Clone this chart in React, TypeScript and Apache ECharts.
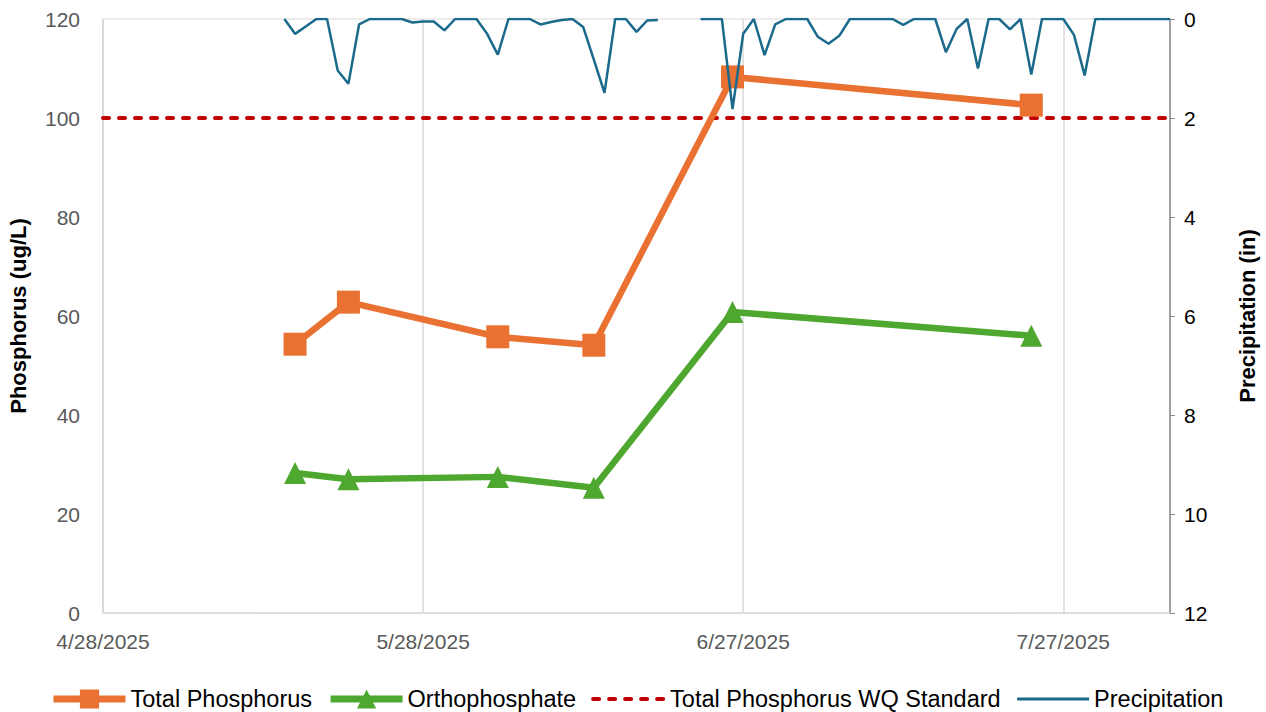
import { useEffect, useRef } from "react";
import * as echarts from "echarts";

// Axis range (dates) and tick step in days
const axisStart = "4/28/2025";
const axisEnd = "8/6/2025";
const xTickStepDays = 30;

// Water-quality samples
const sampleDates = ["5/16/2025", "5/21/2025", "6/4/2025", "6/13/2025", "6/26/2025", "7/24/2025"];
const totalPhosphorus = [54.3, 62.8, 55.8, 54.1, 108.3, 102.6];
const orthophosphate = [28.3, 27.0, 27.5, 25.3, 60.8, 56.0];

// Standard
const wqStandardDates = ["4/28/2025", "8/6/2025"];
const wqStandard = [100, 100];

// Daily precipitation (in), consecutive days from precipStart; null = no data
const precipStart = "5/15/2025";
const precipitation: (number | null)[] = [
  0, 0.3, 0.15, 0, 0, 1.04, 1.31, 0.11, 0, 0,
  0, 0, 0.07, 0.05, 0.05, 0.23, 0, 0, 0, 0.3,
  0.72, 0, 0, 0, 0.11, 0.06, 0.02, 0, 0.16, 0.82,
  1.49, 0, 0, 0.26, 0.03, 0.02, null, null, null, 0,
  0, 0, 1.82, 0.3, 0, 0.73, 0.11, 0, 0, 0,
  0.36, 0.5, 0.34, 0, 0, 0, 0, 0, 0.12, 0,
  0, 0, 0.67, 0.2, 0, 1.0, 0, 0, 0.21, 0,
  1.12, 0, 0, 0, 0.32, 1.14, 0, 0, 0, 0,
  0, 0, 0, 0,
];

const DAY = 86400000;
const parseDate = (s: string) => {
  const [m, d, y] = s.split("/").map(Number);
  return Date.UTC(y, m - 1, d);
};
const t0 = parseDate(axisStart);
const dayOf = (s: string) => Math.round((parseDate(s) - t0) / DAY);
const fmtDay = (v: number) => {
  const dt = new Date(t0 + v * DAY);
  return `${dt.getUTCMonth() + 1}/${dt.getUTCDate()}/${dt.getUTCFullYear()}`;
};

const FONT = "'Liberation Sans', Arial, sans-serif";
const ORANGE = "#E97132";
const GREEN = "#4EA72E";
const RED = "#C00000";
const BLUE = "#1B6A8C";

export default function App() {
  const ref = useRef<HTMLDivElement>(null);
  useEffect(() => {
    if (!ref.current) return;
    const chart = echarts.init(ref.current, undefined, { renderer: "svg" });
    const p0 = dayOf(precipStart);
    const option = {
      animation: false,
      textStyle: { fontFamily: FONT },
      grid: {
        left: 103,
        right: 96,
        top: 19,
        bottom: 99,
        containLabel: false,
        outerBoundsMode: "none",
        show: true,
        borderColor: "#d9d9d9",
        borderWidth: 1,
      },
      legend: {
        top: 682,
        left: 45,
        itemWidth: 72,
        itemHeight: 24,
        itemGap: 15,
        data: [
          { name: "Total Phosphorus", lineStyle: { width: 7 } },
          { name: "Orthophosphate", lineStyle: { width: 7 } },
          { name: "Total Phosphorus WQ Standard", lineStyle: { width: 4 }, itemStyle: { opacity: 0 } },
          { name: "Precipitation", lineStyle: { width: 3 }, itemStyle: { opacity: 0 } },
        ],
        textStyle: { fontSize: 23.5, color: "#000", fontFamily: FONT },
      },
      xAxis: {
        type: "value",
        min: 0,
        max: dayOf(axisEnd),
        interval: xTickStepDays,
        axisLine: { show: true, lineStyle: { color: "#d9d9d9", width: 1.5 } },
        axisTick: { show: false },
        splitLine: { show: true, lineStyle: { color: "#d9d9d9", width: 1.5 } },
        axisLabel: {
          showMaxLabel: false,
          formatter: (v: number) => (v % xTickStepDays === 0 ? fmtDay(v) : ""),
          color: "#595959",
          fontSize: 21,
          margin: 18,
          fontFamily: FONT,
        },
      },
      yAxis: [
        {
          type: "value",
          min: 0,
          max: 120,
          interval: 20,
          position: "left",
          name: "Phosphorus (ug/L)",
          nameLocation: "middle",
          nameGap: 74,
          nameRotate: 90,
          nameTextStyle: { fontSize: 22, fontWeight: "bold", color: "#000", fontFamily: FONT },
          axisLine: { show: true, lineStyle: { color: "#d9d9d9", width: 1.5 } },
          axisTick: { show: false },
          splitLine: { show: false },
          axisLabel: { color: "#595959", fontSize: 21, margin: 23, fontFamily: FONT },
        },
        {
          type: "value",
          min: 0,
          max: 12,
          interval: 2,
          inverse: true,
          position: "right",
          name: "Precipitation (in)",
          nameLocation: "middle",
          nameGap: 66,
          nameRotate: 90,
          nameTextStyle: { fontSize: 22, fontWeight: "bold", color: "#000", fontFamily: FONT },
          axisLine: { show: true, lineStyle: { color: "#8c8c8c", width: 1.5 } },
          axisTick: { show: true, inside: false, length: 5, lineStyle: { color: "#8c8c8c" } },
          splitLine: { show: false },
          axisLabel: { color: "#000", fontSize: 21, margin: 14, fontFamily: FONT },
        },
      ],
      series: [
        {
          name: "Total Phosphorus WQ Standard",
          type: "line",
          yAxisIndex: 0,
          data: wqStandardDates.map((d, i) => [dayOf(d), wqStandard[i]]),
          symbol: "none",
          lineStyle: { color: RED, width: 4, type: [6, 10], cap: "round" },
          itemStyle: { color: RED },
          z: 2,
        },
        {
          name: "Orthophosphate",
          type: "line",
          yAxisIndex: 0,
          data: sampleDates.map((d, i) => [dayOf(d), orthophosphate[i]]),
          symbol: "triangle",
          symbolSize: 22,
          lineStyle: { color: GREEN, width: 6.5 },
          itemStyle: { color: GREEN },
          z: 3,
        },
        {
          name: "Total Phosphorus",
          type: "line",
          yAxisIndex: 0,
          data: sampleDates.map((d, i) => [dayOf(d), totalPhosphorus[i]]),
          symbol: "rect",
          symbolSize: 23,
          lineStyle: { color: ORANGE, width: 6.5 },
          itemStyle: { color: ORANGE },
          z: 3,
        },
        {
          name: "Precipitation",
          type: "line",
          yAxisIndex: 1,
          data: precipitation.map((v, i) => [p0 + i, v]),
          symbol: "none",
          connectNulls: false,
          lineStyle: { color: BLUE, width: 2.5 },
          itemStyle: { color: BLUE },
          z: 4,
        },
      ],
    };
    chart.setOption(option);
    return () => chart.dispose();
  }, []);
  return <div ref={ref} style={{ width: 1266, height: 712, position: "absolute", left: 0, top: 0 }} />;
}
